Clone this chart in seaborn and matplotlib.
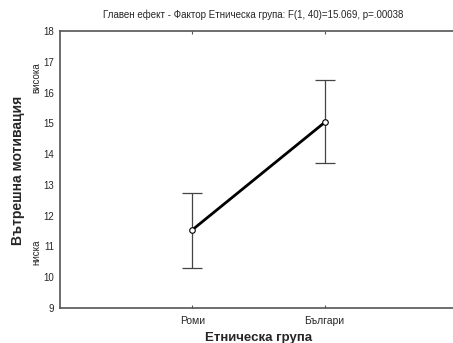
import matplotlib
matplotlib.use("Agg")
import matplotlib.pyplot as plt
import seaborn as sns
import pandas as pd

groups = ["Роми", "Българи"]
means = [11.54, 15.03]
upper = [12.75, 16.40]
lower = [10.30, 13.70]
yticks = [9, 10, 11, 12, 13, 14, 15, 16, 17, 18]

title = "Главен ефект - Фактор Етническа група: F(1, 40)=15.069, p=.00038"
ylabel = "Вътрешна мотивация"
xlabel = "Етническа група"

sns.set_style("white")
plt.rcParams['font.family'] = ['Liberation Sans', 'DejaVu Sans']

df = pd.DataFrame({"group": groups, "mean": means})

fig = plt.figure(figsize=(4.53, 3.43), dpi=100)
W, H = 453, 343
ax = fig.add_axes([60 / W, 1 - 308 / H, (457 - 60) / W, (308 - 31) / H])

sns.pointplot(data=df, x="group", y="mean", color="black", errorbar=None,
              linewidth=2, markers="o", markersize=0, ax=ax)
pos = list(range(len(groups)))
ax.errorbar(pos, means, yerr=[[m - l for m, l in zip(means, lower)],
                              [u - m for u, m in zip(upper, means)]],
            fmt="none", ecolor="#444444", elinewidth=0.9, capsize=7, capthick=0.9, zorder=3)
ax.plot(pos, means, linestyle="none", marker="o", markersize=4,
        markerfacecolor="white", markeredgecolor="black", markeredgewidth=0.8, zorder=5)

ax.set_xlim(-1, 2)
ax.set_ylim(9, 18)
ax.set_yticks(yticks)
ax.set_yticklabels([str(t) for t in yticks], fontsize=7)
ax.set_xticks(pos)
ax.set_xticklabels(groups, fontsize=7.5)
ax.tick_params(axis="x", direction="in", length=2, top=True, bottom=True, pad=6, color="#555555")
ax.tick_params(axis="y", length=0, pad=4)
for s in ["left", "top", "bottom"]:
    ax.spines[s].set_color("#555555")
    ax.spines[s].set_linewidth(1.2)
ax.spines["right"].set_visible(False)

ax.set_xlabel(xlabel, fontsize=9.5, fontweight="bold", labelpad=4)
ax.set_ylabel("")
fig.text(18 / W, 1 - 170 / H, ylabel, rotation=90, fontsize=10, fontweight="bold",
         ha="center", va="center")
fig.text(36 / W, 1 - 78 / H, "висока", rotation=90, fontsize=7, ha="center", va="center")
fig.text(36 / W, 1 - 252 / H, "ниска", rotation=90, fontsize=7, ha="center", va="center")
fig.text(253 / W, 1 - 15 / H, title, fontsize=7, ha="center", va="center")

fig.savefig("out.png", dpi=100)
